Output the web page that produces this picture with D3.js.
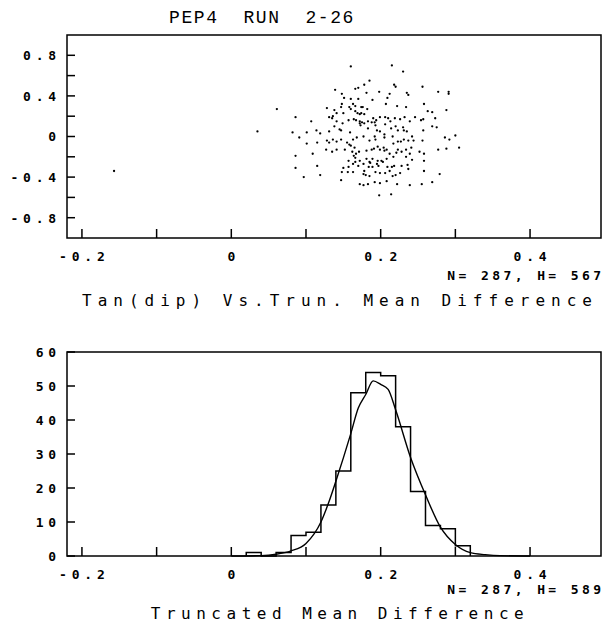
<!DOCTYPE html>
<html lang="en">
<head>
  <meta charset="UTF-8">
  <title>PEP4 RUN 2-26</title>
  <script src="https://d3js.org/d3.v7.min.js"></script>
  <style>
    body { margin: 0; background: #fff; }
    svg { display: block; }
    text { fill: #000; white-space: pre; }
  </style>
</head>
<body>
  <div id="chart"></div>

  <script>
    // scatter: truncated mean difference (x) vs tan(dip) (y)
    const scatterX = [
      0.160, 0.215, 0.230, 0.185, 0.178, 0.170, 0.166, 0.139, 0.218, 0.220, 0.256,
      0.181, 0.198, 0.212, 0.235, 0.237, 0.277, 0.291, 0.291, 0.148, 0.151, 0.160,
      0.170, 0.189, 0.209, 0.207, 0.148, 0.147, 0.158, 0.163, 0.166, 0.174, 0.176,
      0.182, 0.222, 0.234, 0.258, 0.288, 0.061, 0.128, 0.138, 0.141, 0.166, 0.169,
      0.172, 0.178, 0.174, 0.136, 0.131, 0.150, 0.160, 0.263, 0.269, 0.086, 0.107,
      0.135, 0.141, 0.149, 0.157, 0.164, 0.167, 0.172, 0.175, 0.178, 0.183, 0.190,
      0.194, 0.192, 0.199, 0.206, 0.210, 0.213, 0.219, 0.226, 0.232, 0.239, 0.246,
      0.254, 0.257, 0.273, 0.035, 0.082, 0.091, 0.101, 0.114, 0.119, 0.131, 0.138,
      0.145, 0.147, 0.159, 0.172, 0.173, 0.183, 0.188, 0.193, 0.195, 0.199, 0.206,
      0.214, 0.220, 0.223, 0.230, 0.231, 0.235, 0.242, 0.269, 0.275, 0.257, 0.101,
      0.115, 0.128, 0.136, 0.131, 0.141, 0.147, 0.155, 0.158, 0.163, 0.168, 0.177,
      0.185, 0.192, 0.193, 0.205, 0.205, 0.216, 0.217, 0.223, 0.227, 0.231, 0.237,
      0.244, 0.256, 0.286, 0.292, 0.300, 0.305, 0.288, 0.277, 0.109, 0.127, 0.135,
      0.141, 0.152, 0.160, 0.162, 0.165, 0.167, 0.171, 0.181, 0.188, 0.191, 0.196,
      0.199, 0.204, 0.205, 0.208, 0.212, 0.221, 0.223, 0.228, 0.234, 0.239, 0.241,
      0.252, 0.258, 0.086, 0.157, 0.164, 0.166, 0.166, 0.172, 0.181, 0.185, 0.189,
      0.196, 0.201, 0.208, 0.217, 0.234, 0.242, 0.258, 0.086, 0.115, 0.119, 0.097,
      0.150, 0.157, 0.163, 0.170, 0.177, 0.184, 0.186, 0.189, 0.195, 0.197, 0.203,
      0.209, 0.215, 0.218, 0.228, 0.236, 0.237, 0.148, 0.156, 0.163, 0.177, 0.180,
      0.178, 0.185, 0.193, 0.199, 0.206, 0.212, 0.216, 0.220, 0.226, 0.258, 0.279,
      0.147, 0.172, 0.177, 0.183, 0.192, 0.199, 0.208, 0.222, 0.239, 0.255, 0.269,
      0.198, 0.214, -0.157
    ];
    const scatterY = [
      0.69, 0.70, 0.64, 0.55, 0.51, 0.48, 0.47, 0.46, 0.51, 0.49, 0.49,
      0.43, 0.44, 0.42, 0.43, 0.41, 0.44, 0.44, 0.42, 0.42, 0.38, 0.37,
      0.37, 0.36, 0.38, 0.32, 0.32, 0.29, 0.29, 0.32, 0.30, 0.29, 0.29,
      0.27, 0.30, 0.29, 0.32, 0.26, 0.27, 0.28, 0.26, 0.23, 0.25, 0.23,
      0.22, 0.22, 0.23, 0.20, 0.19, 0.23, 0.27, 0.25, 0.24, 0.19, 0.15,
      0.18, 0.15, 0.13, 0.16, 0.17, 0.16, 0.15, 0.14, 0.13, 0.15, 0.18,
      0.16, 0.14, 0.19, 0.19, 0.18, 0.15, 0.18, 0.17, 0.19, 0.15, 0.19,
      0.16, 0.17, 0.18, 0.05, 0.04, -0.01, 0.04, 0.06, 0.03, 0.05, 0.10,
      0.07, 0.06, 0.04, 0.13, 0.11, 0.08, 0.14, 0.11, 0.06, 0.05, 0.12,
      0.08, 0.10, 0.06, 0.09, 0.06, 0.05, 0.00, 0.10, 0.09, 0.06, -0.07,
      -0.06, -0.04, -0.03, -0.06, -0.05, -0.03, -0.06, -0.08, -0.03, -0.01, 0.00,
      -0.04, 0.00, -0.03, 0.02, -0.01, 0.00, -0.07, -0.05, -0.05, -0.03, -0.04,
      -0.04, -0.04, -0.01, -0.03, 0.01, -0.11, -0.12, -0.13, -0.17, -0.13, -0.15,
      -0.13, -0.13, -0.09, -0.15, -0.11, -0.17, -0.15, -0.14, -0.13, -0.12, -0.10,
      -0.13, -0.11, -0.14, -0.13, -0.17, -0.16, -0.13, -0.15, -0.13, -0.17, -0.11,
      -0.15, -0.17, -0.19, -0.24, -0.19, -0.21, -0.25, -0.24, -0.22, -0.25, -0.22,
      -0.24, -0.24, -0.22, -0.20, -0.20, -0.23, -0.24, -0.31, -0.29, -0.38, -0.40,
      -0.31, -0.30, -0.27, -0.29, -0.27, -0.30, -0.26, -0.30, -0.27, -0.29, -0.25,
      -0.30, -0.30, -0.29, -0.29, -0.28, -0.32, -0.35, -0.35, -0.35, -0.37, -0.38,
      -0.34, -0.39, -0.35, -0.36, -0.36, -0.34, -0.39, -0.38, -0.36, -0.34, -0.37,
      -0.43, -0.47, -0.48, -0.47, -0.45, -0.46, -0.44, -0.47, -0.48, -0.47, -0.45,
      -0.58, -0.57, -0.34
    ];

    // histogram: bins of width 0.02, first bin starts at 0.02
    const binStarts = [0.02, 0.04, 0.06, 0.08, 0.10, 0.12, 0.14, 0.16, 0.18, 0.20, 0.22, 0.24, 0.26, 0.28, 0.30];
    const binCounts = [1, 0, 1, 6, 7, 15, 25, 48, 54, 53, 38, 19, 9, 8, 3];
    const binWidth = 0.02;

    // fitted curve
    const fitX = [0.00, 0.04, 0.06, 0.08, 0.10, 0.12, 0.13, 0.14, 0.16, 0.17, 0.18, 0.19, 0.20, 0.21, 0.22, 0.24, 0.26, 0.28, 0.30, 0.32, 0.34, 0.36, 0.40];
    const fitY = [0, 0.1, 0.5, 1.5, 3.7, 10, 15.5, 22, 36, 43.5, 47.5, 51.5, 50.5, 49, 43, 29, 18, 8.5, 3.4, 1, 0.4, 0.1, 0];

    const xMajor = [-0.2, 0, 0.2, 0.4];
    const xMinor = [-0.2, -0.1, 0, 0.1, 0.2, 0.3, 0.4];
    const yTopMajor = [0.8, 0.4, 0, -0.4, -0.8];
    const yTopMinor = [0.8, 0.6, 0.4, 0.2, 0, -0.2, -0.4, -0.6, -0.8];
    const yBotTicks = [0, 10, 20, 30, 40, 50, 60];

    const width = 613, height = 632;
    const left = 67, right = 601;

    const svg = d3.select("#chart").append("svg")
      .attr("width", width)
      .attr("height", height);

    const x = d3.scaleLinear().domain([-0.22, 0.495]).range([left, right]);
    const yTop = d3.scaleLinear().domain([-1, 1]).range([238, 35]);
    const yBot = d3.scaleLinear().domain([0, 60]).range([556, 352]);

    const fmt = v => v === 0 ? "0" : d3.format(".1f")(v).replace("−", "-");
    const lblFont = "'DejaVu Sans Mono', monospace";
    const lblSpacing = 4.8;

    function frame(y) {
      const [y0, y1] = y.range();
      svg.append("rect")
        .attr("x", left).attr("y", y1)
        .attr("width", right - left).attr("height", y0 - y1)
        .attr("fill", "none").attr("stroke", "#000").attr("stroke-width", 1.5);
    }

    function xAxis(y, labelY) {
      const y0 = y.range()[0];
      svg.append("g").selectAll("line").data(xMinor).join("line")
        .attr("x1", d => x(d)).attr("x2", d => x(d))
        .attr("y1", y0).attr("y2", y0 - 9)
        .attr("stroke", "#000").attr("stroke-width", 1.5);
      svg.append("g").selectAll("text").data(xMajor).join("text")
        .attr("x", d => x(d) + lblSpacing / 2).attr("y", labelY)
        .attr("text-anchor", "middle")
        .style("font-family", lblFont).style("font-weight", "bold")
        .style("font-size", "13px").style("letter-spacing", lblSpacing + "px")
        .text(fmt);
    }

    function yTicks(y, ticks, len) {
      svg.append("g").selectAll("line").data(ticks).join("line")
        .attr("x1", left).attr("x2", left + len)
        .attr("y1", d => y(d)).attr("y2", d => y(d))
        .attr("stroke", "#000").attr("stroke-width", 1.5);
    }

    function yLabels(y, ticks, f) {
      svg.append("g").selectAll("text").data(ticks).join("text")
        .attr("x", left - 6).attr("y", d => y(d) + 4.8)
        .attr("text-anchor", "end")
        .style("font-family", lblFont).style("font-weight", "bold")
        .style("font-size", "13px").style("letter-spacing", lblSpacing + "px")
        .text(f);
    }

    // ---------- top: scatter ----------
    svg.append("text")
      .attr("x", 262).attr("y", 23)
      .attr("text-anchor", "middle")
      .style("font-family", "'Liberation Mono', monospace")
      .style("font-size", "18px").style("letter-spacing", "1.6px")
      .text("PEP4  RUN  2-26");

    frame(yTop);
    yTicks(yTop, yTopMinor, 8);
    yLabels(yTop, yTopMajor, fmt);
    xAxis(yTop, 261);

    const pts = scatterX.map((v, i) => ({ x: v, y: scatterY[i] }));
    svg.append("g").selectAll("circle").data(pts).join("circle")
      .attr("cx", d => x(d.x)).attr("cy", d => yTop(d.y))
      .attr("r", 1.15).attr("fill", "#000");

    svg.append("text")
      .attr("x", right + 3.5).attr("y", 280)
      .attr("text-anchor", "end")
      .style("font-family", lblFont).style("font-weight", "bold")
      .style("font-size", "13px").style("letter-spacing", "3.4px")
      .text("N= 287, H= 567");

    svg.append("text")
      .attr("x", 340).attr("y", 306)
      .attr("text-anchor", "middle")
      .style("font-family", lblFont)
      .style("font-size", "16px").style("letter-spacing", "6px")
      .text("Tan(dip) Vs.Trun. Mean Difference");

    // ---------- bottom: histogram ----------
    frame(yBot);
    yTicks(yBot, yBotTicks, 8);
    yLabels(yBot, yBotTicks, d => d);
    xAxis(yBot, 579);

    // step outline of the histogram
    const steps = binStarts.map((s, i) => [s, binCounts[i]]);
    steps.unshift([binStarts[0], 0]);
    steps.push([binStarts[binStarts.length - 1] + binWidth, 0]);
    const stepLine = d3.line()
      .x(d => x(d[0])).y(d => yBot(d[1]))
      .curve(d3.curveStepAfter);
    svg.append("path")
      .attr("d", stepLine(steps))
      .attr("fill", "none").attr("stroke", "#000").attr("stroke-width", 1.5);

    const fitLine = d3.line()
      .x((d, i) => x(fitX[i])).y(d => yBot(d))
      .curve(d3.curveMonotoneX);
    svg.append("path")
      .attr("d", fitLine(fitY))
      .attr("fill", "none").attr("stroke", "#000").attr("stroke-width", 1.4);

    svg.append("text")
      .attr("x", right + 3.5).attr("y", 594)
      .attr("text-anchor", "end")
      .style("font-family", lblFont).style("font-weight", "bold")
      .style("font-size", "13px").style("letter-spacing", "3.4px")
      .text("N= 287, H= 589");

    svg.append("text")
      .attr("x", 340).attr("y", 619)
      .attr("text-anchor", "middle")
      .style("font-family", lblFont)
      .style("font-size", "16px").style("letter-spacing", "5.5px")
      .text("Truncated Mean Difference");
  </script>
</body>
</html>
